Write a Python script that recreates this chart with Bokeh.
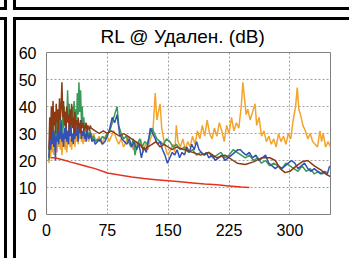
from bokeh.plotting import figure
from bokeh.models import FixedTicker, Label, ColumnDataSource
from bokeh.embed import file_html
from bokeh.resources import INLINE

TITLE = "RL @ Удален. (dB)"
X_LABEL = "MHz"
X_TICKS = [0, 75, 150, 225, 300]
Y_TICKS = [0, 10, 20, 30, 40, 50, 60]

orange = [(3,19),(4,24),(5,21),(6,27),(7,23),(8,29),(9,22),(10,26),(11,24),(12,30),
          (13,23),(14,27),(15,25),(16,31),(17,24),(18,28),(19,22),(20,27),(21,25),(22,32),
          (23,24),(24,29),(25,23),(26,27),(27,26),(28,33),(29,25),(30,28),(31,24),(32,30),
          (33,26),(34,31),(35,25),(36,29),(37,27),(38,32),(39,26),(40,30),(41,28),(42,33),
          (43,27),(44,30),(45,26),(46,29),(47,27),(48,31),(49,28),(50,30),
          (52,27),(54,29),(56,28),(58,30),(60,28),
          (62,27),(65,29),(68,26),(71,28),(74,30),(77,27),(80,29),(83,31),(86,28),(89,26),
          (92,28),(95,25),(98,27),(101,29),(104,26),(107,24),(110,27),(113,25),(116,28),(119,23),
          (122,26),(125,24),(128,28),(131,30),(134,45),(136,35),(138,38),(140,41),(142,32),(145,27),
          (148,23),(150,22),(153,24),(156,26),(158,23),(160,33),(162,27),(165,25),(168,28),(171,24),
          (174,27),(177,25),(180,29),(183,26),(186,31),(189,28),(192,33),(195,29),(198,35),(201,30),
          (204,28),(207,32),(210,29),(213,34),(216,31),(219,27),(222,33),(225,30),(228,36),(231,31),
          (234,34),(237,32),(240,40),(242,49),(244,43),(246,37),(248,39),(251,35),(254,38),(257,41),
          (259,33),(262,36),(265,29),(268,31),(271,27),(274,29),(277,26),(280,28),(283,25),(286,30),
          (289,27),(292,29),(295,26),(298,30),(301,28),(304,35),(307,40),(309,47),(311,39),(313,37),
          (316,33),(319,31),(322,28),(325,30),(328,27),(331,26),(334,25),(337,31),(339,27),(341,30),
          (344,25),(347,27),(350,25)]

green = [(3,20),(4,27),(5,24),(6,32),(7,28),(8,35),(9,27),(10,31),(11,29),(12,36),
         (13,28),(14,33),(15,30),(16,38),(17,31),(18,34),(19,29),(20,37),(21,32),(22,40),
         (23,33),(24,38),(25,35),(26,46),(27,36),(28,41),(29,33),(30,38),(31,34),(32,40),
         (33,35),(34,42),(35,36),(36,39),(37,34),(38,45),(39,37),(40,49),(41,38),(42,46),
         (43,35),(44,40),(45,33),(46,36),(47,31),(48,34),(49,30),(50,32),
         (52,29),(54,31),(56,28),(58,29),(60,27),
         (63,28),(66,27),(69,29),(72,28),(75,30),(78,31),(81,34),(84,37),(87,40),(89,33),
         (92,30),(95,28),(98,29),(101,27),(104,25),(107,28),(109,22),(112,26),(115,28),(118,25),
         (121,27),(124,26),(127,29),(130,32),(133,30),(136,28),(140,27),(144,26),(148,28),(152,27),
         (156,25),(160,26),(165,24),(170,25),(175,23),(180,24),(185,22),(190,23),(195,22),(200,23),
         (205,21),(210,22),(215,23),(220,21),(225,22),(230,24),(235,23),(240,22),(245,21),(250,22),
         (255,20),(260,21),(265,19),(270,20),(275,18),(280,19),(285,18),(290,17),(295,19),(300,18),
         (305,17),(310,16),(315,18),(320,16),(325,17),(330,15),(335,16),(340,15),(345,16)]

blue = [(3,21),(4,28),(5,24),(6,31),(7,26),(8,33),(9,25),(10,30),(11,20),(12,29),
        (13,27),(14,34),(15,26),(16,31),(17,28),(18,35),(19,27),(20,30),(21,25),(22,32),
        (23,28),(24,36),(25,27),(26,31),(27,26),(28,33),(29,29),(30,35),(31,27),(32,30),
        (33,26),(34,32),(35,28),(36,34),(37,29),(38,31),(39,27),(40,33),(41,30),(42,35),
        (43,28),(44,31),(45,29),(46,32),(47,28),(48,30),(49,27),(50,31),
        (52,28),(54,30),(56,27),(58,28),(60,26),
        (63,27),(66,28),(69,26),(72,27),(75,29),(78,32),(81,36),(84,34),(87,37),(90,30),
        (93,28),(96,27),(99,26),(102,28),(105,25),(108,27),(111,24),(114,26),(117,21),(120,25),
        (123,23),(126,28),(128,32),(131,30),(134,28),(137,26),(140,27),(143,24),(146,22),(149,19),
        (152,21),(155,23),(158,22),(161,24),(164,21),(167,23),(170,22),(173,25),(176,23),(179,26),
        (182,24),(185,27),(188,24),(191,23),(194,22),(197,23),(200,21),(204,22),(208,20),(212,21),
        (216,22),(220,20),(224,21),(228,22),(232,23),(236,24),(239,24),(242,23),(246,22),(250,23),
        (254,21),(258,22),(262,20),(266,21),(270,22),(274,19),(278,18),(282,17),(286,18),(290,17),
        (294,18),(298,19),(302,20),(306,19),(310,17),(314,18),(318,19),(322,17),(326,16),(330,17),
        (334,16),(338,15),(342,16),(346,15),(349,18)]

brown = [(3,24),(4,36),(5,28),(6,40),(7,31),(8,42),(9,33),(10,38),(11,30),(12,41),
         (13,34),(14,39),(15,31),(16,43),(17,35),(18,40),(19,49),(20,36),(21,42),(22,33),
         (23,38),(24,32),(25,40),(26,34),(27,37),(28,31),(29,39),(30,33),(31,41),(32,32),
         (33,36),(34,30),(35,38),(36,33),(37,35),(38,31),(39,36),(40,32),(41,34),(42,30),
         (43,35),(44,32),(45,34),(46,31),(47,33),(48,32),(49,34),(50,31),(51,33),(52,32),
         (53,31),(54,33),(55,32),(60,31),(65,30),(70,31),(75,30),(80,31),(85,30),(90,29),
         (95,30),(100,29),(105,28),(110,27),(115,26),(120,24),(125,25),(130,26),(135,27),(140,25),
         (145,26),(150,25),(155,24),(160,25),(170,24),(180,23),(190,22),(200,23),(210,21),(220,22),
         (230,20),(235,19),(245,18.5),(255,19.5),(265,21),(275,21),(282,20),(288,17),(294,15.5),
         (300,16),(308,18),(315,19.5),(322,20),(330,18),(338,16.5),(344,15),(350,14)]

limit = [(5,21),(10,21),(20,20.3),(30,19.4),(40,18.6),(50,17.8),(60,17.0),(75,15.4),
         (90,14.6),(105,13.9),(120,13.3),(135,12.9),(150,12.5),(165,12.1),(180,11.7),
         (195,11.3),(210,11.0),(225,10.6),(240,10.2),(250,10.0)]

series = [(orange, "#f4a42c"), (green, "#3b9a57"), (blue, "#3452b4"),
          (brown, "#8c3a14"), (limit, "#e5321f")]

FONT = "Liberation Sans"

p = figure(width=349, height=258, output_backend="svg", toolbar_location=None,
           x_range=(0, 350), y_range=(0, 60),
           min_border_left=46, min_border_right=19, min_border_top=52, min_border_bottom=44)

p.border_fill_color = None
p.background_fill_color = "white"
p.outline_line_color = "#808080"
p.outline_line_width = 1

G = "linear-gradient(#000,#000)"
p.styles = {
    "background-image": ", ".join([G] * 8),
    "background-size": "3px 10px, 7px 3px, 3px 10px, 100% 3px, "
                       "3px 100%, 7px 3px, 3px 100%, 100% 3px",
    "background-position": "4px 0px, 0px 7px, 13px 0px, 13px 7px, "
                           "4px 17px, 0px 17px, 13px 17px, 13px 17px",
    "background-repeat": "no-repeat",
}

p.title.text = TITLE
p.title.align = "left"
p.title.offset = 54
p.title.text_font = FONT
p.title.text_font_size = "19px"
p.title.text_font_style = "normal"
p.title.text_color = "black"
p.title.standoff = 12

p.xaxis.ticker = FixedTicker(ticks=X_TICKS)
p.yaxis.ticker = FixedTicker(ticks=Y_TICKS)
p.xgrid.ticker = FixedTicker(ticks=X_TICKS)
p.ygrid.ticker = FixedTicker(ticks=Y_TICKS)
for ax in (p.xaxis, p.yaxis):
    ax.axis_line_color = None
    ax.major_tick_line_color = None
    ax.minor_tick_line_color = None
    ax.major_tick_out = 0
    ax.major_tick_in = 0
    ax.minor_tick_out = 0
    ax.minor_tick_in = 0
    ax.major_label_text_font = FONT
    ax.major_label_text_font_size = "16px"
    ax.major_label_text_color = "black"
p.xaxis.major_label_standoff = 9
p.yaxis.major_label_standoff = 10

for g in (p.xgrid, p.ygrid):
    g.grid_line_color = "#a0a0a0"
    g.grid_line_dash = "2 2"
    g.grid_line_width = 1

for data, color in series:
    xs = [d[0] for d in data]
    ys = [d[1] for d in data]
    src = ColumnDataSource(dict(x=xs, y=ys))
    p.line("x", "y", source=src, line_color=color, line_width=1.5)

p.add_layout(Label(x=136, y=-29, x_units="screen", y_units="screen", text=X_LABEL,
                   text_align="center", text_baseline="top", text_font=FONT,
                   text_font_size="18px", text_color="black"))

open("out.html", "w").write(file_html(p, INLINE))
